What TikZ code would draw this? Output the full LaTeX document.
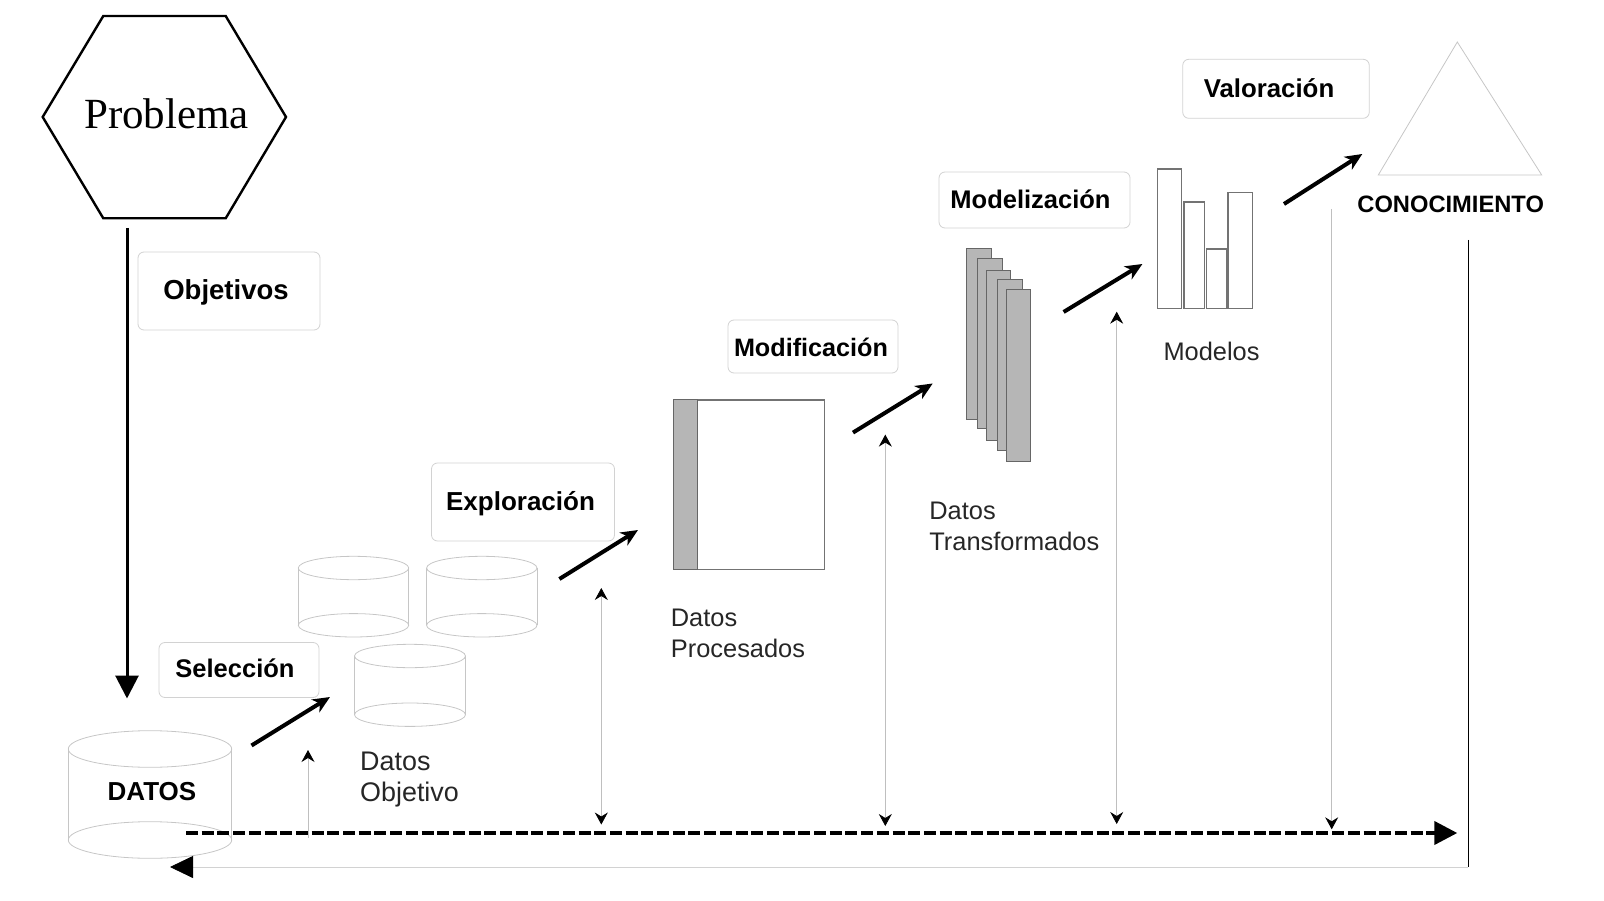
\documentclass[tikz,border=0pt]{standalone}
\usepackage{fontspec}
\setmainfont{Liberation Sans}
\newfontfamily\serifprob{Liberation Serif}
\usepackage{tikz}
\usetikzlibrary{arrows.meta, positioning, calc}

% one cylinder: centre x, top y, bottom y, x radius, y radius
\newcommand{\barril}[5]{
  \draw[linea] (#1,#2) ellipse [x radius=#4pt, y radius=#5pt];
  \draw[linea] (#1,#3) ellipse [x radius=#4pt, y radius=#5pt];
  \draw[linea] ({#1-#4},#2) -- ({#1-#4},#3);
  \draw[linea] ({#1+#4},#2) -- ({#1+#4},#3);
}

\begin{document}
\begin{tikzpicture}[x=1pt, y=-1pt,
                linea/.style={draw=gray!45, line width=0.8pt},
                etapa/.style={draw=gray!35, line width=0.8pt, rounded corners=6pt,
                           text height=20pt, inner sep=0pt,
                           font=\fontsize{#1}{30}\selectfont\bfseries},
                texto/.style={anchor=north west, align=left, inner sep=0pt,
                           font=\fontsize{25.4}{30.5}\selectfont, text=black!85},
                barra/.style={draw=black!55, line width=1.2pt},
                barragris/.style={draw=black!60, fill=gray!57, line width=1pt},
                grueso/.style={-{Stealth[length=17pt, width=15pt, inset=5pt]}, line width=4pt},
                fina/.style={draw=gray!50, line width=0.8pt},
                puntaf/.style={-{Stealth[length=12pt, width=13pt, inset=4pt, black]}},
                puntai/.style={{Stealth[length=12pt, width=13pt, inset=4pt, black]}-},
                puntad/.style={{Stealth[length=12pt, width=13pt, inset=4pt, black]}-{Stealth[length=12pt, width=13pt, inset=4pt, black]}}]

                \useasboundingbox (0,0) rectangle (1604,901);

                % Hexagon at top left
                \draw[line width=2.4pt, line join=miter] (42.7,117) -- (103.3,16) -- (225.7,16)
                    -- (286,117) -- (225.7,218.3) -- (103.3,218.3) -- cycle;
                \node[font=\fontsize{43}{50}\selectfont\serifprob, inner sep=0pt] (problema) at (166.5,113.5) {Problema};

                % Boxes with the stages
                \node[etapa=27.5, text depth=2.6pt, minimum width=182pt, minimum height=78pt] (objetivos) at (229,291) {Objetivos\kern6pt};
                \node[etapa=25.5, text depth=5.4pt, minimum width=160pt, minimum height=55pt] (seleccion) at (239,670) {Selección\kern8pt};
                \node[etapa=26, text depth=2.4pt, minimum width=183pt, minimum height=78pt] (exploracion) at (523,502) {Exploración\kern5pt};
                \node[etapa=25.2, text depth=0pt, minimum width=170pt, minimum height=53pt] (modificacion) at (813,346.5) {Modificación\kern4pt};
                \node[etapa=25.5, text depth=3.6pt, minimum width=191pt, minimum height=56pt] (modelizacion) at (1034.5,200) {Modelización\kern8pt};
                \node[etapa=25.8, text depth=3pt, minimum width=186.5pt, minimum height=59pt] (valoracion) at (1276,88.8) {Valoración\kern14pt};

                % Cylinders
                \barril{150}{749}{840}{81.7}{18.3}
                \node[font=\fontsize{26}{30}\selectfont\bfseries, inner sep=0pt] (datos) at (152,792) {DATOS};
                \barril{353.5}{568}{625.3}{55.2}{11.7}
                \barril{481.8}{568}{625.3}{55.2}{11.7}
                \barril{410}{656}{714.7}{55.5}{11.7}

                % Processed data
                \node[barra, fill=white, minimum width=151pt, minimum height=169.7pt, inner sep=0pt] (procesados) at (748.8,484.8) {};
                \node[barragris, minimum width=24pt, minimum height=169.7pt, inner sep=0pt] (franja) at (685.3,484.8) {};

                % Transformed data
                \draw[barragris] (966,248.7) rectangle (991,419);
                \draw[barragris] (977.3,258.7) rectangle (1002.3,428.3);
                \draw[barragris] (986,270.7) rectangle (1010.7,440.7);
                \draw[barragris] (997.3,280) rectangle (1022.3,450.3);
                \draw[barragris] (1006.7,289.3) rectangle (1030.7,461);

                % Models
                \draw[barra] (1157.3,169) rectangle (1181.7,308.7);
                \draw[barra] (1184,202) rectangle (1204.7,308.7);
                \draw[barra] (1206.3,249) rectangle (1226.7,308.7);
                \draw[barra] (1228,192.7) rectangle (1252.7,308.7);

                % Triangle
                \draw[linea, line join=miter] (1457.3,42) -- (1541.7,175) -- (1378.3,175) -- cycle;
                \node[font=\fontsize{23.7}{28}\selectfont\bfseries, inner sep=0pt] (conocimiento) at (1450.7,204) {CONOCIMIENTO};

                % Labels
                \node[texto, font=\fontsize{26.9}{31}\selectfont] (objetivo) at (360,752) {Datos\\Objetivo};
                \node[texto] (procesadostxt) at (670.7,609) {Datos\\Procesados};
                \node[texto] (transformados) at (929.2,502) {Datos\\Transformados};
                \node[texto] (modelos) at (1163.3,342) {Modelos};

                % Arrow from the problem to the data
                \coordinate (inicio) at (127,228);
                \coordinate (fin) at (127,698.5);
                \draw[line width=3pt, -{Triangle[length=23pt, width=23pt]}] (inicio) -- (fin);

                % Arrows between stages
                \coordinate (a1) at (251.5,745.5);
                \coordinate (b1) at (330,697);
                \coordinate (a2) at (559.4,579);
                \coordinate (b2) at (638,530);
                \coordinate (a3) at (853,432.6);
                \coordinate (b3) at (932.7,383.5);
                \coordinate (a4) at (1063.6,312);
                \coordinate (b4) at (1142.4,264);
                \coordinate (a5) at (1284,204);
                \coordinate (b5) at (1362.3,154);
                \draw[grueso] (a1) -- (b1);
                \draw[grueso] (a2) -- (b2);
                \draw[grueso] (a3) -- (b3);
                \draw[grueso] (a4) -- (b4);
                \draw[grueso] (a5) -- (b5);

                % Thin arrows to the dashed line
                \coordinate (v1a) at (308,750);
                \coordinate (v1b) at (308,838);
                \coordinate (v2a) at (601.3,588);
                \coordinate (v2b) at (601.3,824.5);
                \coordinate (v3a) at (885.3,434.6);
                \coordinate (v3b) at (885.3,826);
                \coordinate (v4a) at (1116.7,311.7);
                \coordinate (v4b) at (1116.7,824);
                \coordinate (v5a) at (1331.7,209);
                \coordinate (v5b) at (1331.7,829.3);
                \draw[fina, puntai] (v1a) -- (v1b);
                \draw[fina, puntad] (v2a) -- (v2b);
                \draw[fina, puntad] (v3a) -- (v3b);
                \draw[fina, puntad] (v4a) -- (v4b);
                \draw[fina, puntaf] (v5a) -- (v5b);

                % Dashed feedback line
                \coordinate (guion1) at (186,833);
                \coordinate (guion2) at (1457.3,833);
                \draw[line width=4pt, dash pattern=on 12pt off 3.7pt] (guion1) -- ($(guion2)+(-23,0)$);
                \draw[line width=4pt, -{Triangle[length=23pt, width=23pt]}] ($(guion2)+(-24,0)$) -- (guion2);

                % Return line from knowledge
                \coordinate (retorno1) at (1468,240);
                \coordinate (retorno2) at (1468,867);
                \coordinate (retorno3) at (170,867);
                \draw[line width=1pt] (retorno1) -- (retorno2);
                \draw[draw=gray!35, line width=0.8pt, -{Triangle[length=23pt, width=22pt, black]}] (retorno2) -- (retorno3);
\end{tikzpicture}
\end{document}
